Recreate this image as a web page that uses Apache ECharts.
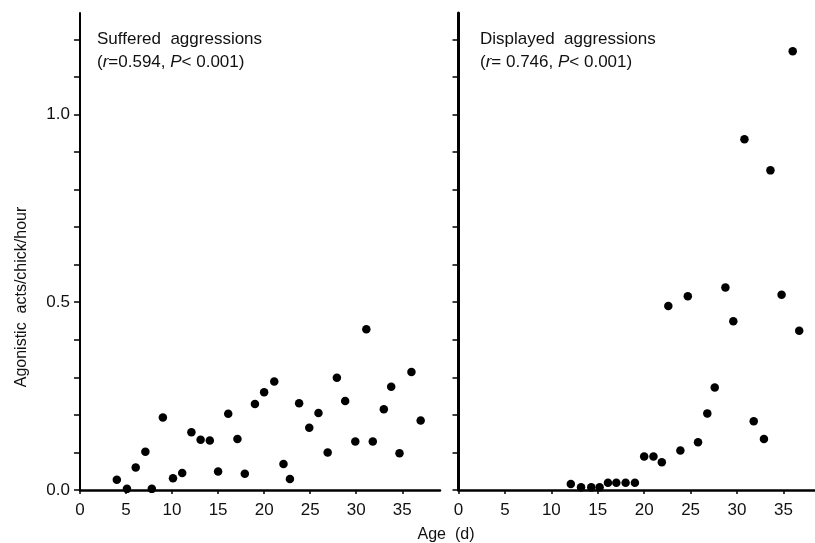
<!DOCTYPE html>
<html>
<head>
<meta charset="utf-8">
<script src="https://cdn.jsdelivr.net/npm/echarts@6/dist/echarts.min.js"></script>
<style>
html,body{margin:0;padding:0;background:#fff;}
#chart{width:815px;height:543px;}
</style>
</head>
<body>
<div id="chart"></div>
<script>
// Suffered aggressions: [age (d), acts/chick/hour]
const suffered = [
  [4.0,0.027],[5.1,0.003],[6.05,0.060],[7.1,0.102],[7.8,0.003],[9.0,0.193],
  [10.1,0.031],[11.1,0.045],[12.1,0.154],[13.1,0.134],[14.1,0.132],[15.0,0.049],
  [16.1,0.203],[17.1,0.136],[17.9,0.043],[19.0,0.229],[20.0,0.26],[21.1,0.289],
  [22.1,0.069],[22.8,0.029],[23.8,0.231],[24.9,0.166],[25.9,0.205],[26.9,0.100],
  [27.9,0.299],[28.8,0.237],[29.9,0.129],[31.1,0.428],[31.8,0.129],[33.0,0.215],
  [33.8,0.275],[34.7,0.098],[36.0,0.314],[37.0,0.185]
];
// Displayed aggressions
const displayed = [
  [12.1,0.016],[13.2,0.007],[14.3,0.007],[15.2,0.007],[16.1,0.019],[17.0,0.019],
  [18.0,0.019],[19.0,0.019],[20.0,0.089],[21.0,0.089],[21.9,0.074],[22.6,0.49],
  [23.9,0.105],[24.7,0.516],[25.8,0.127],[26.8,0.204],[27.6,0.273],[28.75,0.539],
  [29.6,0.449],[30.8,0.934],[31.8,0.183],[32.9,0.136],[33.6,0.851],[34.8,0.52],
  [36.0,1.168],[36.7,0.424]
];
const xTicks = [0,5,10,15,20,25,30,35];
const yTicks = [0,0.1,0.2,0.3,0.4,0.5,0.6,0.7,0.8,0.9,1.0,1.1,1.2];
const yLabels = [0,0.5,1.0];

const FONT = '"Liberation Sans", "DejaVu Sans", sans-serif';
const chart = echarts.init(document.getElementById('chart'));

function xAxis(idx, max) {
  return {
    type:'value', gridIndex: idx, min:0, max:max,
    axisLine:{show:true, onZero:false, lineStyle:{color:'#000', width:2.5}},
    axisTick:{show:true, length:4, inside:false, customValues:xTicks, lineStyle:{color:'#000', width:1.5}},
    axisLabel:{show:true, customValues:xTicks, margin:12, color:'#111', fontSize:17, fontFamily:FONT},
    splitLine:{show:false}
  };
}
function yAxis(idx, showLabels, w) {
  return {
    type:'value', gridIndex: idx, min:0, max:1.27,
    axisLine:{show:true, onZero:false, lineStyle:{color:'#000', width:w}},
    axisTick:{show:true, length:6, inside:false, customValues:yTicks, lineStyle:{color:'#000', width:1.5}},
    axisLabel:{show:showLabels, customValues:yLabels, margin:10, color:'#111', fontSize:17, fontFamily:FONT,
      formatter:v=>v.toFixed(1)},
    splitLine:{show:false}
  };
}

chart.setOption({
  backgroundColor:'#fff',
  animation:false,
  grid:[
    {left:80, right:375, top:13, bottom:53},
    {left:458.5, right:0, top:13, bottom:53}
  ],
  xAxis:[xAxis(0,39.1), xAxis(1,38.4)],
  yAxis:[yAxis(0,true,2), yAxis(1,false,3)],
  series:[
    {type:'scatter', xAxisIndex:0, yAxisIndex:0, data:suffered, symbolSize:8.5, itemStyle:{color:'#000', opacity:1}},
    {type:'scatter', xAxisIndex:1, yAxisIndex:1, data:displayed, symbolSize:8.5, itemStyle:{color:'#000', opacity:1}}
  ],
  graphic:[
    {type:'text', left:97, top:31, style:{text:'Suffered  aggressions', font:'17px '+FONT, fill:'#111'}},
    {type:'text', left:97, top:54, style:{text:'({i|r}=0.594, {i|P}< 0.001)', font:'17px '+FONT, fill:'#111',
      rich:{i:{fontStyle:'italic', fontSize:17, fontFamily:FONT}}}},
    {type:'text', left:480, top:31, style:{text:'Displayed  aggressions', font:'17px '+FONT, fill:'#111'}},
    {type:'text', left:480, top:54, style:{text:'({i|r}= 0.746, {i|P}< 0.001)', font:'17px '+FONT, fill:'#111',
      rich:{i:{fontStyle:'italic', fontSize:17, fontFamily:FONT}}}},
    {type:'text', x:22, y:297, rotation:Math.PI/2, style:{text:'Agonistic  acts/chick/hour', font:'16px '+FONT, fill:'#111', align:'center', verticalAlign:'middle'}},
    {type:'text', x:446, y:535, style:{text:'Age  (d)', font:'16px '+FONT, fill:'#111', align:'center', verticalAlign:'middle'}}
  ]
});
</script>
</body>
</html>
